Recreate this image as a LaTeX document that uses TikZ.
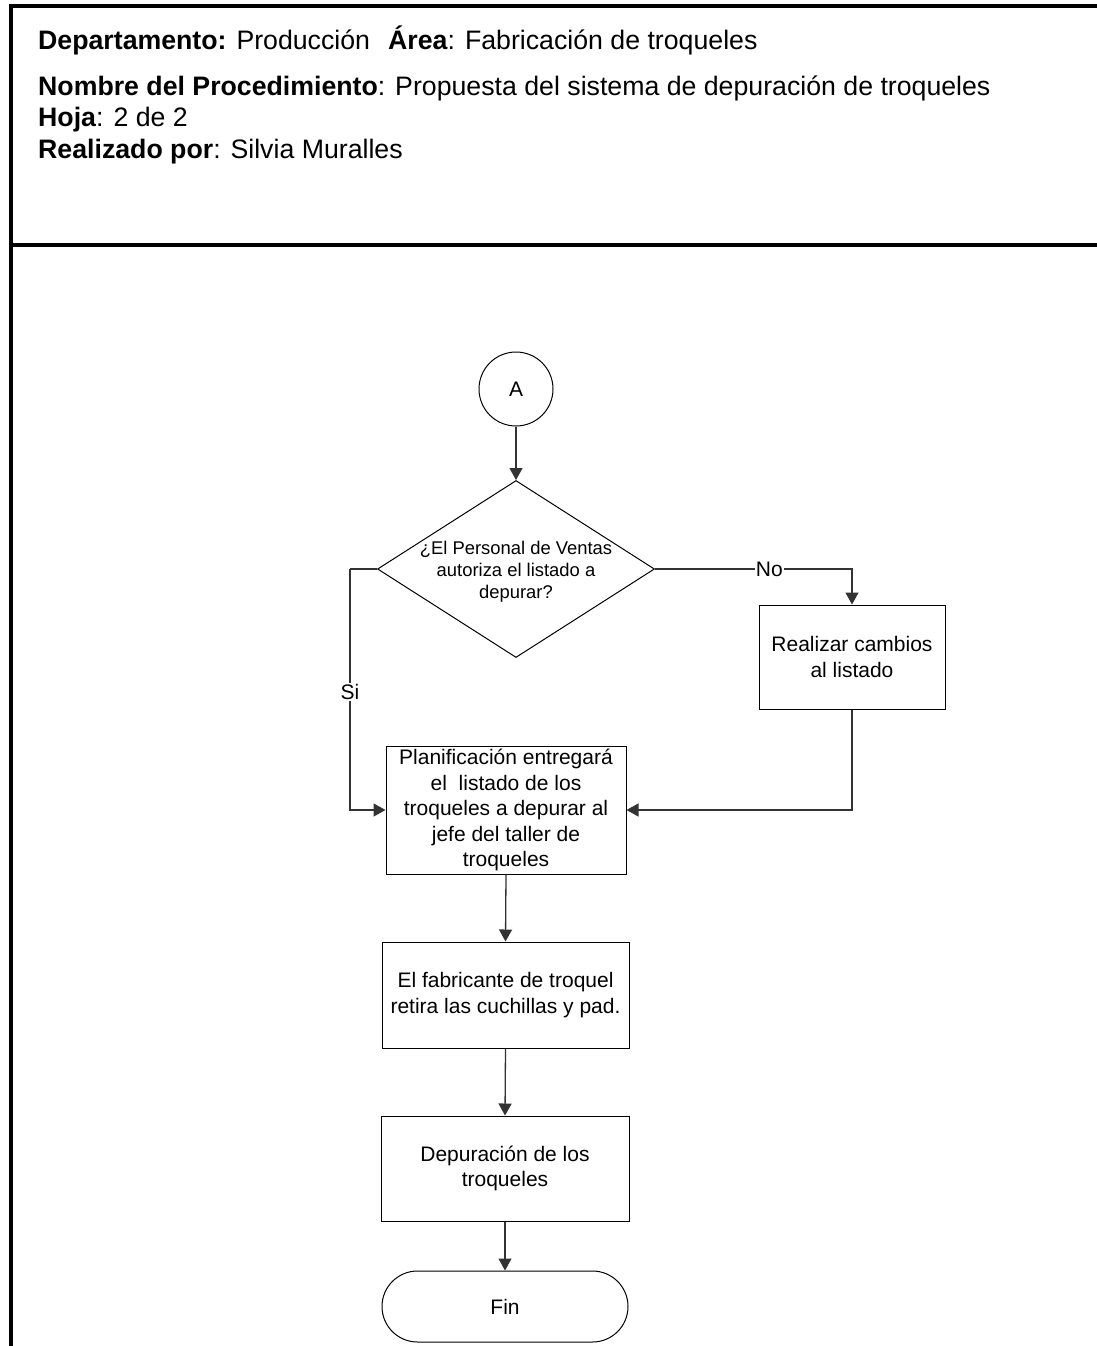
\documentclass[tikz,border=0pt]{standalone}
\usepackage{fontspec}
\setmainfont{Liberation Sans}
\usetikzlibrary{shapes.geometric,shapes.misc,arrows.meta}
\begin{document}
\begin{tikzpicture}[x=1pt,y=-1pt,
  frame/.style={line width=4pt,black},
  hdr/.style={anchor=base west,inner sep=0pt,font=\fontsize{26.7}{30}\selectfont},
  proc/.style={draw=black,line width=1pt,rectangle,align=center,inner sep=2pt,
    font=\fontsize{21}{25.5}\selectfont},
  decis/.style={draw=black,line width=1pt,diamond,inner sep=0pt,
    minimum width=277pt,minimum height=177pt},
  qtext/.style={align=center,inner sep=0pt,font=\fontsize{18.4}{22}\selectfont},
  conn/.style={draw=black!80,line width=1.3pt,-{Triangle[length=12pt,width=13pt]}},
  seg/.style={draw=black!80,line width=1.3pt},
  lbl/.style={fill=white,inner sep=1pt,font=\fontsize{21}{25}\selectfont}]
\useasboundingbox (0,0) rectangle (1097,1346);
\fill[white] (0,0) rectangle (1097,1346);

% page frame and header separator
\draw[frame] (11,1346) -- (11,6) -- (1097,6);
\draw[frame] (11,245) -- (1097,245);

% header block
\node[hdr] (h1) at (38,50) {\textbf{Departamento:} Producción};
\node[hdr] (h2) at (388,50) {\textbf{Área}: Fabricación de troqueles};
\node[hdr] (h3) at (38,95) {\textbf{Nombre del Procedimiento}: Propuesta del sistema de depuración de troqueles};
\node[hdr] (h4) at (38,126) {\textbf{Hoja}: 2 de 2};
\node[hdr] (h5) at (38,158) {\textbf{Realizado por}: Silvia Muralles};

% flowchart nodes
\node[draw=black,line width=1pt,circle,minimum size=74pt,inner sep=0pt,
  font=\fontsize{21}{25}\selectfont] (A) at (516,389) {A};
\node[decis] (dec) at (516,569) {};
\node[qtext] (dectext) at (516,572) {¿El Personal de Ventas\\autoriza el listado a\\depurar?};
\node[proc,minimum width=186pt,minimum height=104pt] (chg) at (852,657)
  {Realizar cambios\\al listado};
\node[proc,minimum width=240pt,minimum height=128pt] (plan) at (506,810)
  {Planificación entregará\\el \ listado de los\\troqueles a depurar al\\jefe del taller de\\troqueles};
\node[proc,minimum width=247pt,minimum height=106pt] (fab) at (505.5,995)
  {El fabricante de troquel\\retira las cuchillas y pad.};
\node[proc,minimum width=248pt,minimum height=105pt] (dep) at (505,1168.5)
  {Depuración de los\\troqueles};
\node[draw=black,line width=1pt,rounded rectangle,minimum width=246pt,minimum height=71pt,
  inner sep=0pt,font=\fontsize{21}{25}\selectfont] (fin) at (505,1306.5) {Fin};

\coordinate (sicorner) at (350,569);

% connectors
\draw[conn] (A.south) -- (dec.north);
\draw[conn] (dec.east) -| node[lbl,pos=0.29] {No} (chg.north);
\draw[conn] (chg.south) |- (plan.east);
\draw[seg] (dec.west) -- (sicorner);
\draw[conn] (sicorner) |- node[lbl,pos=0.255] {Si} (plan.west);
\draw[conn] (plan.south) -- (fab.north);
\draw[conn] (fab.south) -- (dep.north);
\draw[conn] (dep.south) -- (fin.north);
\end{tikzpicture}
\end{document}
